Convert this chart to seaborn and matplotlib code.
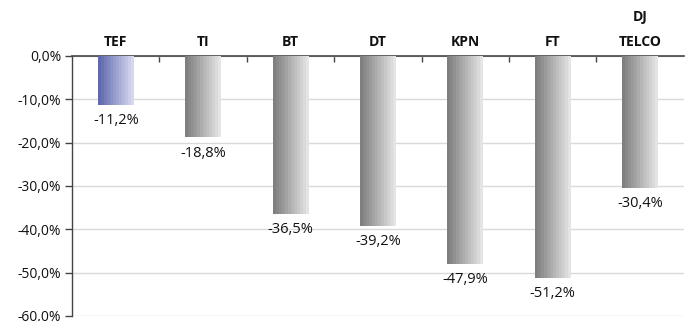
import numpy as np
import pandas as pd
import matplotlib
matplotlib.use("Agg")
import matplotlib.pyplot as plt
import matplotlib.ticker as mticker
from matplotlib.colors import LinearSegmentedColormap
import seaborn as sns

categories = ["TEF", "TI", "BT", "DT", "KPN", "FT", "DJ\nTELCO"]
values = [-11.2, -18.8, -36.5, -39.2, -47.9, -51.2, -30.4]
y_ticks = [0, -10, -20, -30, -40, -50, -60]

sns.set_theme(style="white")
plt.rcParams["font.family"] = ["Open Sans", "DejaVu Sans"]

df = pd.DataFrame({"company": categories, "change": values})

fig = plt.figure(figsize=(6.87, 3.21), dpi=100)
ax = fig.add_axes([0.105, 0.0156, 0.89, 0.81])

sns.barplot(data=df, x="company", y="change", ax=ax, width=0.41,
            color="#999999", edgecolor="none", saturation=1)

blue = LinearSegmentedColormap.from_list("b", ["#5f6aae", "#d6d8ee"])
grey = LinearSegmentedColormap.from_list("g", ["#7f7f7f", "#e4e4e4"])
grad = np.linspace(0, 1, 12).reshape(1, -1)
for i, p in enumerate(ax.patches):
    x0, y0 = p.get_x(), p.get_y()
    w, h = p.get_width(), p.get_height()
    cmap = blue if i == 0 else grey
    im = ax.imshow(grad, cmap=cmap, aspect="auto", interpolation="nearest",
                   extent=[x0, x0 + w, min(y0, y0 + h), max(y0, y0 + h)], zorder=3)
    im.set_clip_path(p)
    p.set_facecolor("none")
    ax.annotate(f"{values[i]:.1f}%".replace(".", ","),
                xy=(x0 + w / 2, values[i]), xytext=(0, -6), textcoords="offset points",
                ha="center", va="top", fontsize=10.5, color="#111111")

ax.set_ylim(-60, 0)
ax.set_xlim(-0.5, len(categories) - 0.5)

ax.set_yticks(y_ticks)
ax.yaxis.set_major_formatter(mticker.FuncFormatter(lambda v, _: f"{v:.1f}%".replace(".", ",")))
ax.tick_params(axis="y", direction="out", length=5, width=1, color="#444444",
               labelsize=10, labelcolor="#111111", pad=3, left=True)
ax.grid(axis="y", color="#d9d9d9", linewidth=1)
ax.set_axisbelow(True)

ax.xaxis.tick_top()
ax.set_xticks(range(len(categories)))
ax.set_xticklabels(categories, fontweight="bold", fontsize=10, color="#111111",
                   linespacing=2.0)
ax.tick_params(axis="x", which="major", length=0, pad=5)
ax.set_xticks(np.arange(0.5, len(categories) - 0.5, 1), minor=True)
ax.tick_params(axis="x", which="minor", direction="in", length=4, width=1,
               color="#444444", top=True, bottom=False)
ax.set_xlabel("")
ax.set_ylabel("")

for s in ["right", "bottom"]:
    ax.spines[s].set_visible(False)
ax.spines["top"].set_color("#444444")
ax.spines["left"].set_color("#444444")
ax.spines["top"].set_linewidth(1.2)
ax.spines["left"].set_linewidth(1)

fig.savefig("out.png", dpi=100)
